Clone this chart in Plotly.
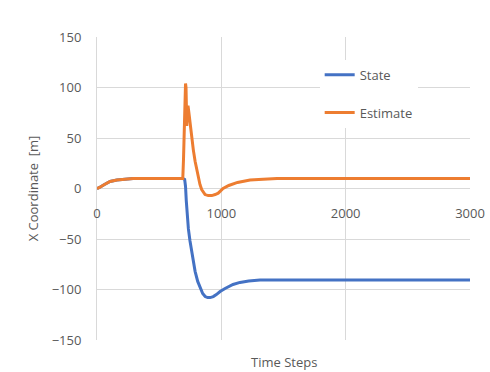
import plotly.graph_objects as go

# values
state_t = [0, 20, 60, 105, 160, 220, 290, 400, 550, 690, 705, 712, 718, 725, 735, 748, 760, 775, 789,
           810, 830, 850, 870, 890, 910, 935, 960, 990, 1030, 1094, 1150, 1220, 1311, 1500, 2000, 2500, 3000]
state_x = [0, 1, 4, 7, 8.5, 9.5, 10, 10, 10, 10, 9, 2, -12, -25, -40, -52, -62, -72, -82,
           -92, -99, -104, -107, -108, -108, -107, -105, -102, -99, -95, -93, -91.5, -90.5, -90.5, -90.5, -90.5, -90.5]

est_t = [0, 20, 60, 105, 160, 220, 290, 400, 550, 690, 696, 700, 706, 712, 716, 722, 727, 732, 740,
         750, 762, 775, 789, 802, 815, 828, 842, 869, 895, 923, 950, 975, 1014, 1060, 1130, 1231, 1300, 1448, 2000, 2500, 3000]
est_x = [0, 1, 4, 7, 8.5, 9.5, 10, 10, 10, 10, 30, 56, 85, 104, 100, 62, 78, 82, 74,
         62, 50, 38, 27, 18, 10, 4, -1, -6, -7, -7, -6, -4.6, 0, 3, 6, 8.5, 9, 10, 10, 10, 10]

font = "Open Sans, Noto Sans, sans-serif"
grey = "#595959"

fig = go.Figure()
fig.add_trace(go.Scatter(x=state_t, y=state_x, mode="lines", name="State",
                         legendgroup="a", line=dict(color="#4472C4", width=3)))
fig.add_trace(go.Scatter(x=est_t, y=est_x, mode="lines", name="Estimate",
                         legendgroup="b", line=dict(color="#ED7D31", width=3)))

fig.update_layout(
    width=490, height=372,
    margin=dict(l=97, r=20, t=37, b=32),
    plot_bgcolor="white", paper_bgcolor="white",
    font=dict(family=font, size=13, color=grey),
    showlegend=True,
    legend=dict(x=0.597, y=0.925, xanchor="left", yanchor="top",
                bgcolor="white", traceorder="grouped", tracegroupgap=18,
                font=dict(size=13, color=grey)),
    annotations=[dict(text="Time Steps", xref="paper", yref="paper",
                      x=0.5, y=-0.073, xanchor="center", yanchor="middle",
                      showarrow=False, font=dict(size=13, color=grey))],
)

fig.update_xaxes(range=[0, 3000], tickvals=[0, 1000, 2000, 3000],
                 showgrid=True, gridcolor="#d9d9d9", gridwidth=1,
                 zeroline=False, showline=False, automargin=False,
                 anchor="free", position=0.5, ticks="", ticklabelstandoff=15)
fig.update_yaxes(range=[-150, 150], tickvals=list(range(-150, 151, 50)),
                 showgrid=True, gridcolor="#d9d9d9", gridwidth=1,
                 zeroline=True, zerolinecolor="#d9d9d9", zerolinewidth=1,
                 showline=True, linecolor="#d9d9d9", linewidth=1,
                 ticks="", ticklabelstandoff=12, automargin=False,
                 title=dict(text="X Coordinate  [m]", standoff=10,
                            font=dict(size=13, color=grey)))

# drop the default 8px body margin so the figure sits at the window's corner
fig.write_html("out.html", config={"displayModeBar": False},
               post_script="document.body.style.margin='0';")
